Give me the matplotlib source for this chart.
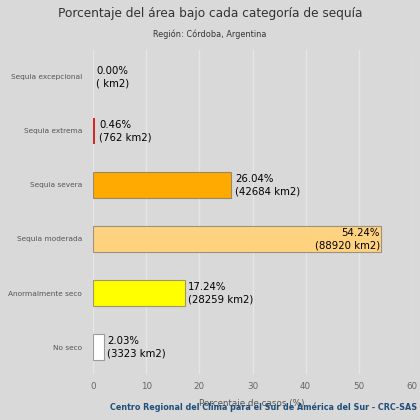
import matplotlib
matplotlib.use("Agg")
import matplotlib.pyplot as plt

categories = ["Sequia excepcional", "Sequia extrema", "Sequia severa",
              "Sequia moderada", "Anormalmente seco", "No seco"]
percent = [0.00, 0.46, 26.04, 54.24, 17.24, 2.03]
area_km2 = ["", "762", "42684", "88920", "28259", "3323"]
colors = ["#7a0000", "#d02828", "#ffaa00", "#ffd27f", "#ffff00", "#ffffff"]
xticks = [0, 10, 20, 30, 40, 50, 60]

bg = "#d9d9d9"
fig = plt.figure(figsize=(4.2, 4.2), dpi=100, facecolor=bg)
ax = fig.add_axes([93/420, 46/420, 319/420, 324/420], facecolor=bg)

ypos = list(range(len(categories)))
lws = [0.8 if p > 1 else 0 for p in percent]
ax.barh(ypos, percent, height=0.49, color=colors, edgecolor=(0.35, 0.35, 0.35, 0.55),
        linewidth=lws, zorder=3)
ax.set_ylim(len(categories) - 0.5, -0.5)
ax.set_xlim(0, 60)
ax.set_xticks(xticks)
ax.set_xticklabels([str(t) for t in xticks], fontsize=6.3, color="#666666")
ax.set_yticks(ypos)
ax.set_yticklabels(categories, fontsize=5.3, color="#555555")
ax.tick_params(axis="x", length=0, pad=6)
ax.tick_params(axis="y", length=0, pad=8)
for s in ax.spines.values():
    s.set_visible(False)
ax.grid(axis="x", color="#e6e6e6", linewidth=1, zorder=0)
ax.set_axisbelow(True)

for i, (p, a) in enumerate(zip(percent, area_km2)):
    label = f"{p:.2f}%\n({a} km2)" if a else f"{p:.2f}%\n( km2)"
    if p > 45:
        ax.annotate(label, (p, i), xytext=(-1, 0), textcoords="offset points",
                    ha="right", va="center", fontsize=7.3, color="#000000",
                    linespacing=1.3, zorder=4)
    else:
        ax.annotate(label, (p, i), xytext=(2.5, 0), textcoords="offset points",
                    ha="left", va="center", fontsize=7.3, color="#000000",
                    linespacing=1.3, zorder=4)

fig.text(0.5, 1 - 13/420, "Porcentaje del área bajo cada categoría de sequía",
         ha="center", va="center", fontsize=8.7, color="#333333")
fig.text(0.5, 1 - 34/420, "Región: Córdoba, Argentina",
         ha="center", va="center", fontsize=5.9, color="#333333")
fig.text(252/420, 1 - 403/420, "Porcentaje de casos (%)",
         ha="center", va="center", fontsize=6.3, color="#555555")
fig.text(264/420, 1 - 407/420,
         "Centro Regional del Clima para el Sur de América del Sur - CRC-SAS",
         ha="center", va="center", fontsize=5.8, color="#1f4e79", fontweight="bold")

fig.savefig("out.png", dpi=100, facecolor=bg)
